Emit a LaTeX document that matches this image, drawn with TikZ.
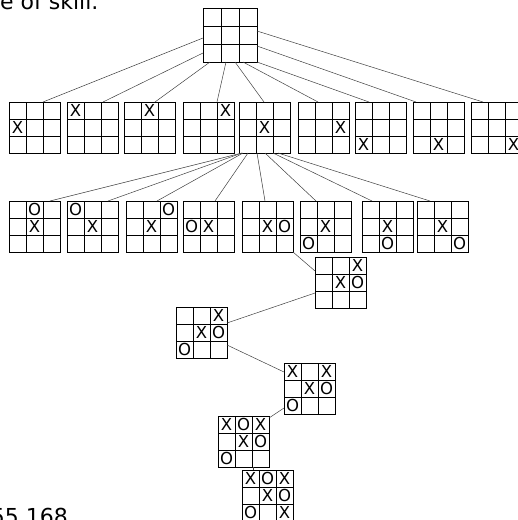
\documentclass[tikz,border=0pt]{standalone}
\usepackage{fontspec}
\setmainfont{DejaVu Sans}
\usetikzlibrary{calc}
\tikzset{
  board/.style={draw, line width=0.8pt, inner sep=0pt, outer sep=0pt},
  gridline/.style={line width=0.8pt},
  conn/.style={line width=0.5pt, black!75},
  xomark/.style={inner sep=0pt, font=\fontsize{16.5}{16.5}\selectfont},
  pagetext/.style={inner sep=0pt, font=\fontsize{22}{26}\selectfont},
}
\newcommand\tttboard[5]{%
  \node[board, minimum size={3*#4*1pt}, anchor=north west] (#1) at (#2,#3) {};
  \foreach \k in {1,2}{
    \draw[gridline] (#2+\k*#4,#3) -- (#2+\k*#4,#3+3*#4);
    \draw[gridline] (#2,#3+\k*#4) -- (#2+3*#4,#3+\k*#4);
  }
  \foreach \m [count=\i from 0] in {#5}{
    \if\m-\else
      \pgfmathtruncatemacro\rowi{int(\i/3)}
      \pgfmathtruncatemacro\coli{mod(\i,3)}
      \node[xomark] (#1-\i) at (#2+\coli*#4+0.5*#4, #3+\rowi*#4+0.5*#4) {\m};
    \fi
  }
}
\newcommand\link[4]{\draw[conn] ($(#1.north west)+#2$) -- ($(#3.north west)+#4$);}
\begin{document}
\begin{tikzpicture}[x=1pt,y=-1pt]
\useasboundingbox (0,0) rectangle (518,520);
\node[pagetext, anchor=base west] (t1) at (0,9) {e of skill.};
\node[pagetext, anchor=base east] (t2) at (68,524) {55 168};
% root
\tttboard{top}{203}{8}{18}{-,-,-,-,-,-,-,-,-}
% level 1
\tttboard{a1}{9}{102}{17}{-,-,-,X,-,-,-,-,-}
\tttboard{a2}{67}{102}{17}{X,-,-,-,-,-,-,-,-}
\tttboard{a3}{124}{102}{17}{-,X,-,-,-,-,-,-,-}
\tttboard{a4}{183}{102}{17}{-,-,X,-,-,-,-,-,-}
\tttboard{a5}{239}{102}{17}{-,-,-,-,X,-,-,-,-}
\tttboard{a6}{298}{102}{17}{-,-,-,-,-,X,-,-,-}
\tttboard{a7}{355}{102}{17}{-,-,-,-,-,-,X,-,-}
\tttboard{a8}{413}{102}{17}{-,-,-,-,-,-,-,X,-}
\tttboard{a9}{471}{102}{17}{-,-,-,-,-,-,-,-,X}
% level 2
\tttboard{b1}{9}{201}{17}{-,O,-,-,X,-,-,-,-}
\tttboard{b2}{67}{201}{17}{O,-,-,-,X,-,-,-,-}
\tttboard{b3}{126}{201}{17}{-,-,O,-,X,-,-,-,-}
\tttboard{b4}{183}{201}{17}{-,-,-,O,X,-,-,-,-}
\tttboard{b5}{242}{201}{17}{-,-,-,-,X,O,-,-,-}
\tttboard{b6}{300}{201}{17}{-,-,-,-,X,-,O,-,-}
\tttboard{b7}{362}{201}{17}{-,-,-,-,X,-,-,O,-}
\tttboard{b8}{417}{201}{17}{-,-,-,-,X,-,-,-,O}
% deeper
\tttboard{c3}{315}{257}{17}{-,-,X,-,X,O,-,-,-}
\tttboard{c4}{176}{307}{17}{-,-,X,-,X,O,O,-,-}
\tttboard{c5}{284}{363}{17}{X,-,X,-,X,O,O,-,-}
\tttboard{c6}{218}{416}{17}{X,O,X,-,X,O,O,-,-}
\tttboard{c7}{242}{470}{17}{X,O,X,-,X,O,O,-,X}
% connectors root -> level 1
\link{top}{(0,30)}{a1}{(34,0)}
\link{top}{(0,45)}{a2}{(36,0)}
\link{top}{(7,54)}{a3}{(31,0)}
\link{top}{(23,54)}{a4}{(34,0)}
\link{top}{(32,54)}{a5}{(25,0)}
\link{top}{(40,54)}{a6}{(20,0)}
\link{top}{(54,54)}{a7}{(14,0)}
\link{top}{(54,38)}{a8}{(3,0)}
\link{top}{(54,23)}{a9}{(12,0)}
% level 1 -> level 2
\link{a5}{(3,51)}{b1}{(41,0)}
\link{a5}{(3,51)}{b2}{(41,0)}
\link{a5}{(4,51)}{b3}{(31,0)}
\link{a5}{(9,51)}{b4}{(32,0)}
\link{a5}{(18,51)}{b5}{(23,0)}
\link{a5}{(26,51)}{b6}{(16,0)}
\link{a5}{(34,51)}{b7}{(10,0)}
\link{a5}{(39,51)}{b8}{(13,0)}
% chain
\link{b5}{(51,51)}{c3}{(0,14)}
\link{c3}{(0,36)}{c4}{(51,16)}
\link{c4}{(51,38)}{c5}{(0,9)}
\link{c5}{(0,45)}{c6}{(51,2)}
\link{c6}{(35,51)}{c7}{(11,0)}
\end{tikzpicture}
\end{document}
